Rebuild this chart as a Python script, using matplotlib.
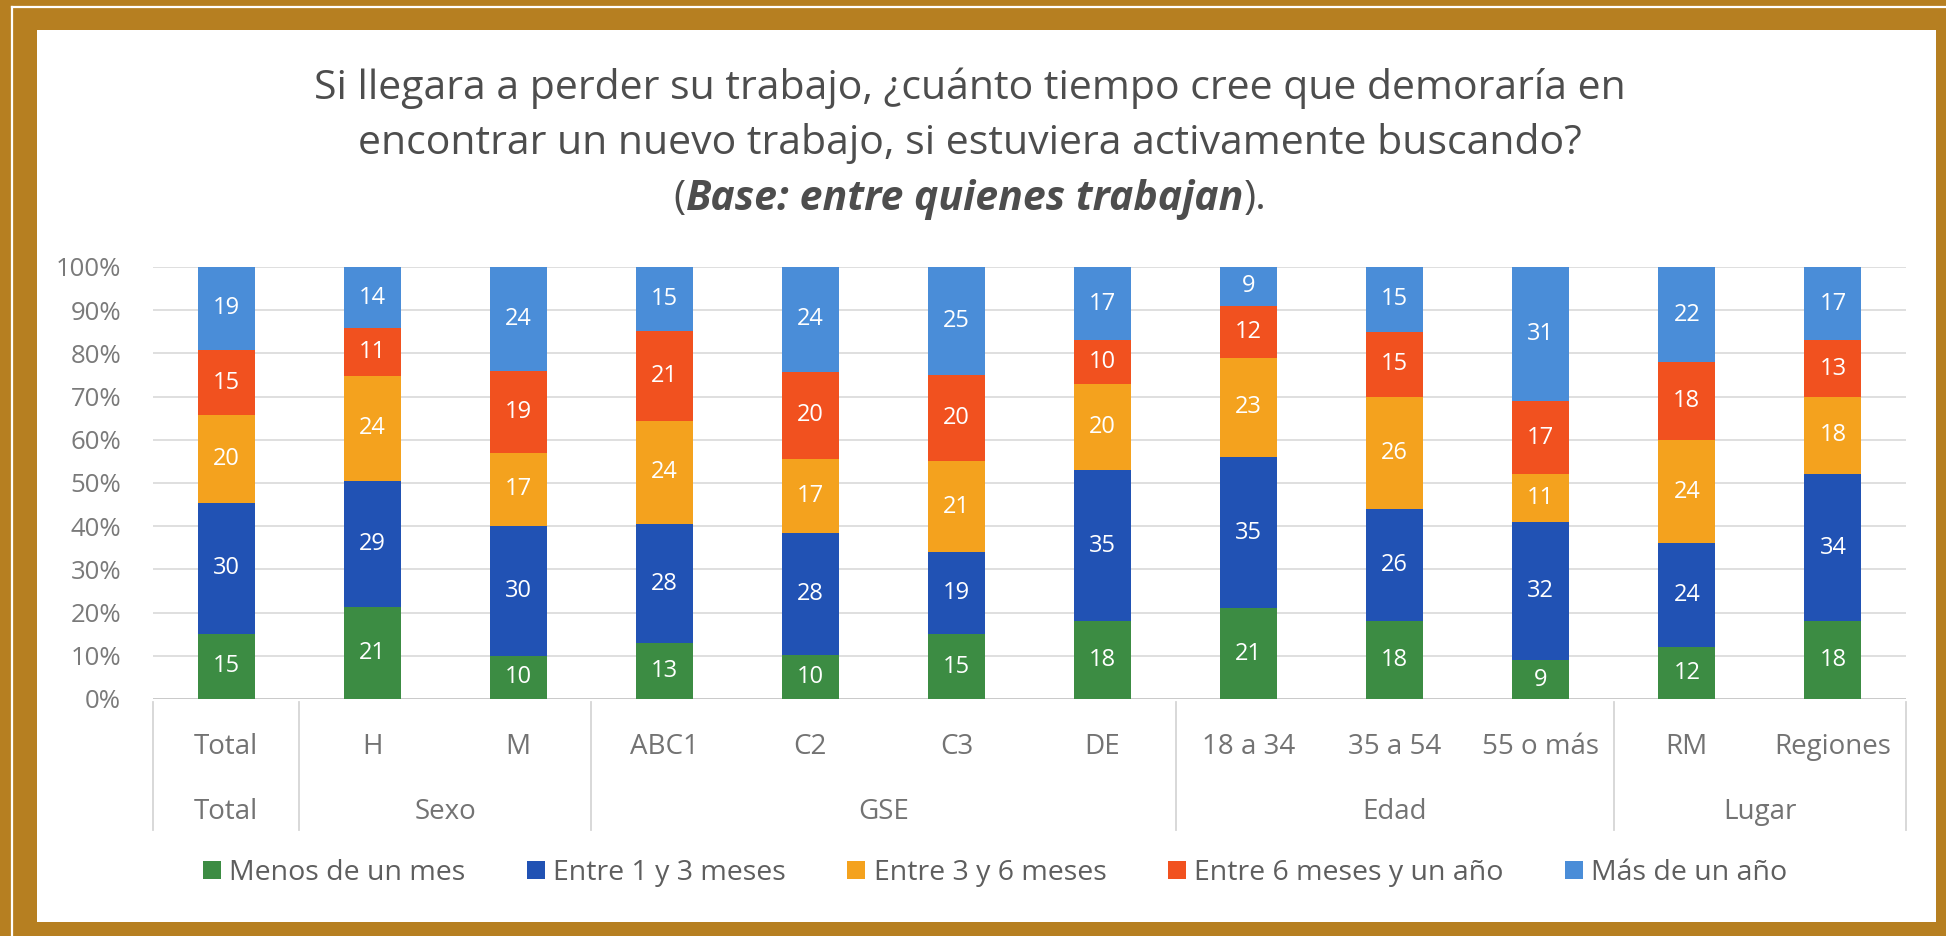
import matplotlib
matplotlib.use("Agg")
import matplotlib.pyplot as plt
from matplotlib.patches import Rectangle
from matplotlib.lines import Line2D
import numpy as np

plt.rcParams['font.family'] = ['Open Sans', 'DejaVu Sans']

# ---- data -------------------------------------------------------------
categories = ["Total", "H", "M", "ABC1", "C2", "C3", "DE",
              "18 a 34", "35 a 54", "55 o más", "RM", "Regiones"]
groups = ["Total", "Sexo", "GSE", "Edad", "Lugar"]
group_sizes = [1, 2, 4, 3, 2]

series_names = ["Menos de un mes", "Entre 1 y 3 meses", "Entre 3 y 6 meses",
                "Entre 6 meses y un año", "Más de un año"]
menos_un_mes = [15, 21, 10, 13, 10, 15, 18, 21, 18, 9, 12, 18]
entre_1_3 = [30, 29, 30, 28, 28, 19, 35, 35, 26, 32, 24, 34]
entre_3_6 = [20, 24, 17, 24, 17, 21, 20, 23, 26, 11, 24, 18]
entre_6_12 = [15, 11, 19, 21, 20, 20, 10, 12, 15, 17, 18, 13]
mas_un_ano = [19, 14, 24, 15, 24, 25, 17, 9, 15, 31, 22, 17]

yticks = [0, 10, 20, 30, 40, 50, 60, 70, 80, 90, 100]

colors = ["#3C8C43", "#2152B4", "#F4A21E", "#F1511F", "#4A8DD8"]

W, H = 1946, 936
fx = lambda px: px / W
fy = lambda py: 1 - py / H

fig = plt.figure(figsize=(W / 100, H / 100), dpi=100)
fig.patch.set_facecolor("#B67F21")

# frame decoration and white panel
fig.add_artist(Line2D([fx(12), fx(12)], [fy(7), 0], color="white", lw=1.6,
                      transform=fig.transFigure))
fig.add_artist(Line2D([fx(12), 1], [fy(7), fy(7)], color="white", lw=1.6,
                      transform=fig.transFigure))
fig.add_artist(Rectangle((fx(37), fy(922)), fx(1936) - fx(37), fy(30) - fy(922),
                         facecolor="white", edgecolor="none",
                         transform=fig.transFigure, zorder=0))

# ---- chart ------------------------------------------------------------
ax = fig.add_axes([fx(153), fy(699), fx(1906) - fx(153), fy(267) - fy(699)])
ax.set_facecolor("none")
for s in ax.spines.values():
    s.set_visible(False)

all_series = [menos_un_mes, entre_1_3, entre_3_6, entre_6_12, mas_un_ano]
values = np.array(all_series, dtype=float)
totals = values.sum(axis=0)
shares = values / totals * 100

x = np.arange(len(categories))
bottom = np.zeros(len(categories))
handles = []
for name, raw, share, col in zip(series_names, values, shares, colors):
    bars = ax.bar(x, share, bottom=bottom, width=0.39, color=col,
                  label=name, zorder=3)
    handles.append(bars)
    for xi, b, h, v in zip(x, bottom, share, raw):
        ax.text(xi, b + h / 2, f"{int(v)}", ha="center", va="center",
                color="white", fontsize=17, zorder=4)
    bottom += share

ax.set_xlim(-0.5, len(categories) - 0.5)
ax.set_ylim(0, 100)
ax.set_yticks(yticks)
ax.set_yticklabels([f"{t}%" for t in yticks])
ax.tick_params(axis="y", length=0, pad=23, labelsize=18.5, labelcolor="#7a7a7a")
ax.set_xticks([])
ax.yaxis.grid(True, color="#dcdcdc", lw=1.3, zorder=0)
ax.set_axisbelow(True)
ax.axhline(0, color="#c8c8c8", lw=1.3, zorder=2)

# category and group labels beneath the axis
tr = ax.get_xaxis_transform()
y_cat = -(747 - 699) / 432
y_grp = -(812 - 699) / 432
y_sep_top = -(702 - 699) / 432
y_sep_bot = -(830 - 699) / 432
for xi, c in zip(x, categories):
    ax.text(xi, y_cat, c, transform=tr, ha="center", va="center",
            fontsize=20, color="#737373", clip_on=False)

edges = np.concatenate([[0], np.cumsum(group_sizes)]) - 0.5
for g, lo, hi in zip(groups, edges[:-1], edges[1:]):
    ax.text((lo + hi) / 2, y_grp, g, transform=tr, ha="center", va="center",
            fontsize=20, color="#737373", clip_on=False)
for e in edges:
    ax.add_line(Line2D([e, e], [y_sep_top, y_sep_bot], transform=tr,
                       color="#d6d6d6", lw=1.3, clip_on=False))

# ---- title ------------------------------------------------------------
title_color = "#4d4d4d"
title_size = 29.5
fig.text(0.4985, fy(88), "Si llegara a perder su trabajo, ¿cuánto tiempo cree que demoraría en",
         ha="center", va="center", fontsize=title_size, color=title_color)
fig.text(0.4985, fy(143), "encontrar un nuevo trabajo, si estuviera activamente buscando?",
         ha="center", va="center", fontsize=title_size, color=title_color)

pieces = [("(", "normal", "normal"),
          ("Base:", "bold", "italic"),
          (" entre quienes trabajan", "bold", "italic"),
          (").", "normal", "normal")]
renderer = fig.canvas.get_renderer()
texts = []
for s, w, st in pieces:
    t = fig.text(0, fy(199), s, ha="left", va="center", fontsize=title_size,
                 fontweight=w, fontstyle=st, color=title_color)
    texts.append(t)
widths = [t.get_window_extent(renderer).width for t in texts]
total_w = sum(widths)
start = 0.4985 * W - total_w / 2
for t, w in zip(texts, widths):
    t.set_x(start / W)
    start += w

# ---- legend -----------------------------------------------------------
fig.legend(handles, series_names, loc="center",
           bbox_to_anchor=(fx(995), fy(873)), ncol=5, frameon=False,
           fontsize=20.5, handlelength=0.63, handleheight=0.63,
           handletextpad=0.3, columnspacing=2.15, labelcolor="#5e5e5e")

fig.savefig("out.png", dpi=100, facecolor=fig.get_facecolor())
